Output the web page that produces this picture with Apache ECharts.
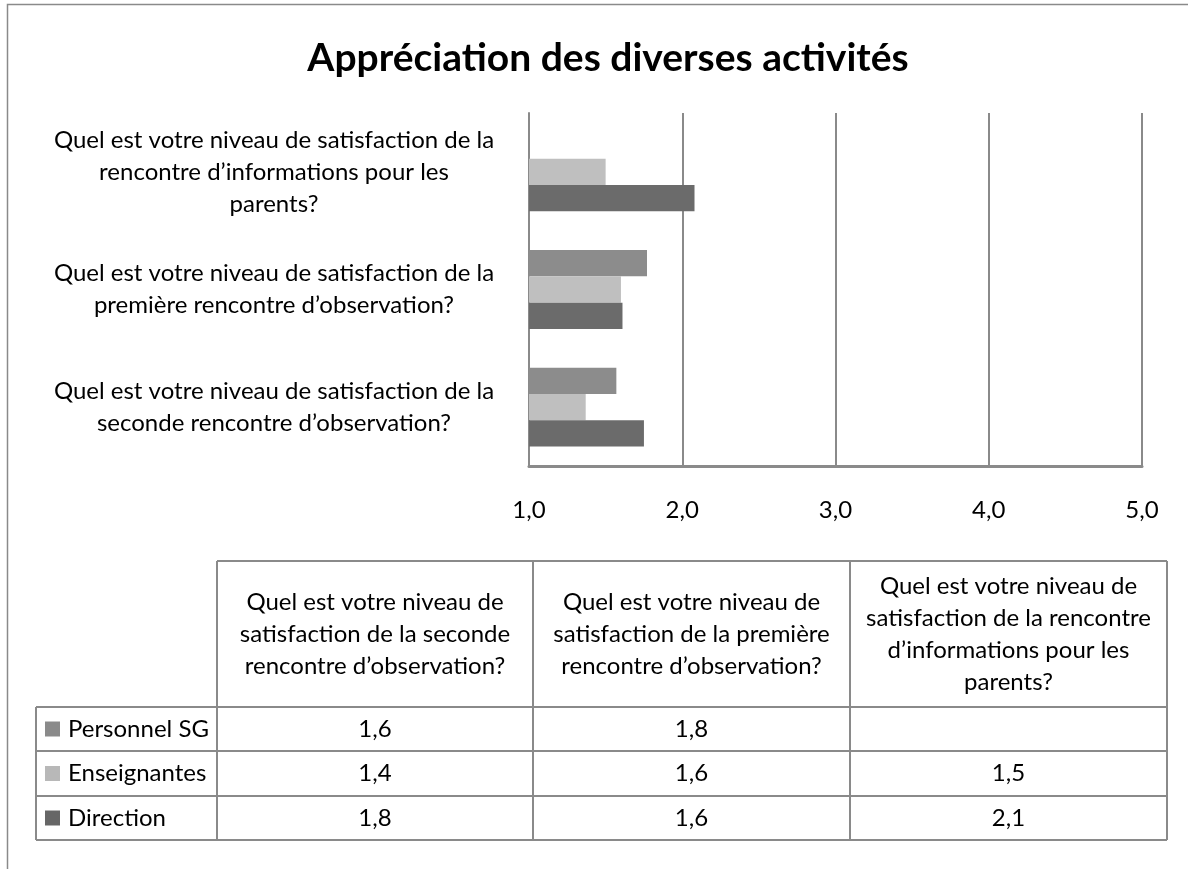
<!DOCTYPE html>
<html>
<head>
<meta charset="utf-8">
<script src="https://cdn.jsdelivr.net/npm/echarts@6/dist/echarts.min.js"></script>
<style>
html,body{margin:0;padding:0;background:#fff;}
#chart{width:1188px;height:869px;}
</style>
</head>
<body>
<div id="chart"></div>
<script>
// ---- data ----
const title = 'Appréciation des diverses activités';
// category labels (bottom to top), with their line breaks as shown
const categories = [
  'Quel est votre niveau de satisfaction de la\nseconde rencontre d’observation?',
  'Quel est votre niveau de satisfaction de la\npremière rencontre d’observation?',
  'Quel est votre niveau de satisfaction de la\nrencontre d’informations pour les\nparents?'
];
// same categories as the table header writes them
const tableHeaders = [
  'Quel est votre niveau de\nsatisfaction de la seconde\nrencontre d’observation?',
  'Quel est votre niveau de\nsatisfaction de la première\nrencontre d’observation?',
  'Quel est votre niveau de\nsatisfaction de la rencontre\nd’informations pour les\nparents?'
];
const seriesNames = ['Personnel SG', 'Enseignantes', 'Direction'];
const personnelSG = [1.57, 1.77, null];
const enseignantes = [1.37, 1.60, 1.50];
const direction = [1.75, 1.61, 2.08];
const xMin = 1, xMax = 5, xStep = 1;

// ---- styles ----
const colors = ['#8c8c8c', '#bfbfbf', '#6b6b6b'];
const legendColors = ['#8a8a8a', '#b8b8b8', '#666666'];
const FONT = 'Lato';
const FS = 24;
const lineColor = '#8a8a8a';
const fmt = v => (v == null ? '' : v.toFixed(1).replace('.', ','));

const seriesData = [personnelSG, enseignantes, direction];

// ---- table geometry ----
const colX = [217, 533, 850, 1167];
const tableLeft = 36;
const headerTop = 561;
const rowY = [707, 751, 796, 840];

const graphics = [];
graphics.push({type:'rect', shape:{x:7.5, y:4.5, width:1300, height:1000},
  style:{fill:null, stroke:'#8a8a8a', lineWidth:1.5}, silent:true});

function hline(x1, x2, y){ graphics.push({type:'line', shape:{x1:x1,y1:y,x2:x2,y2:y}, style:{stroke:lineColor, lineWidth:2}, silent:true}); }
function vline(x, y1, y2){ graphics.push({type:'line', shape:{x1:x,y1:y1,x2:x,y2:y2}, style:{stroke:lineColor, lineWidth:2}, silent:true}); }

hline(colX[0], colX[3], headerTop);
rowY.forEach(y => hline(tableLeft, colX[3], y));
colX.forEach(x => vline(x, headerTop, rowY[3]));
vline(tableLeft, rowY[0], rowY[3]);

tableHeaders.forEach((c, i) => {
  const cx = (colX[i] + colX[i+1]) / 2;
  graphics.push({type:'text', x:cx, y:(headerTop + rowY[0]) / 2, silent:true,
    style:{text:c, align:'center', verticalAlign:'middle',
      font:FS + 'px ' + FONT, lineHeight:32, fill:'#000'}});
});
seriesNames.forEach((name, r) => {
  const cy = (rowY[r] + rowY[r+1]) / 2;
  graphics.push({type:'rect', shape:{x:45, y:cy-7.5, width:15, height:15}, style:{fill:legendColors[r]}, silent:true});
  graphics.push({type:'text', x:68, y:cy, silent:true,
    style:{text:name, align:'left', verticalAlign:'middle', font:FS + 'px ' + FONT, fill:'#000'}});
  seriesData[r].forEach((v, i) => {
    graphics.push({type:'text', x:(colX[i] + colX[i+1]) / 2, y:cy, silent:true,
      style:{text:fmt(v), align:'center', verticalAlign:'middle', font:FS + 'px ' + FONT, fill:'#000'}});
  });
});

const chart = echarts.init(document.getElementById('chart'), null, {renderer:'canvas'});
chart.setOption({
  backgroundColor:'#fff',
  animation:false,
  title:{text:title, left:603, textAlign:'center', top:34,
    textStyle:{fontFamily:FONT, fontWeight:'bold', fontSize:39, color:'#000'}},
  grid:{left:529, right:46, top:113, bottom:403, containLabel:false},
  xAxis:{type:'value', min:xMin, max:xMax, interval:xStep,
    axisLine:{show:true, lineStyle:{color:lineColor, width:3}},
    axisTick:{show:false},
    splitLine:{show:true, lineStyle:{color:lineColor, width:2}},
    axisLabel:{formatter:v => fmt(v), margin:32, fontFamily:FONT, fontSize:FS, color:'#000'}},
  yAxis:{type:'category', data:categories,
    axisLine:{show:true, lineStyle:{color:lineColor, width:2}},
    axisTick:{show:false},
    axisLabel:{align:'center', margin:255, lineHeight:32, padding:[8,0,0,0],
      fontFamily:FONT, fontSize:FS, color:'#000'}},
  series: seriesNames.map((n, i) => ({
    name:n, type:'bar', data:seriesData[i], barGap:'0%', barCategoryGap:'33%',
    itemStyle:{color:colors[i]}, clip:true
  })),
  graphic: graphics
});
</script>
</body>
</html>
